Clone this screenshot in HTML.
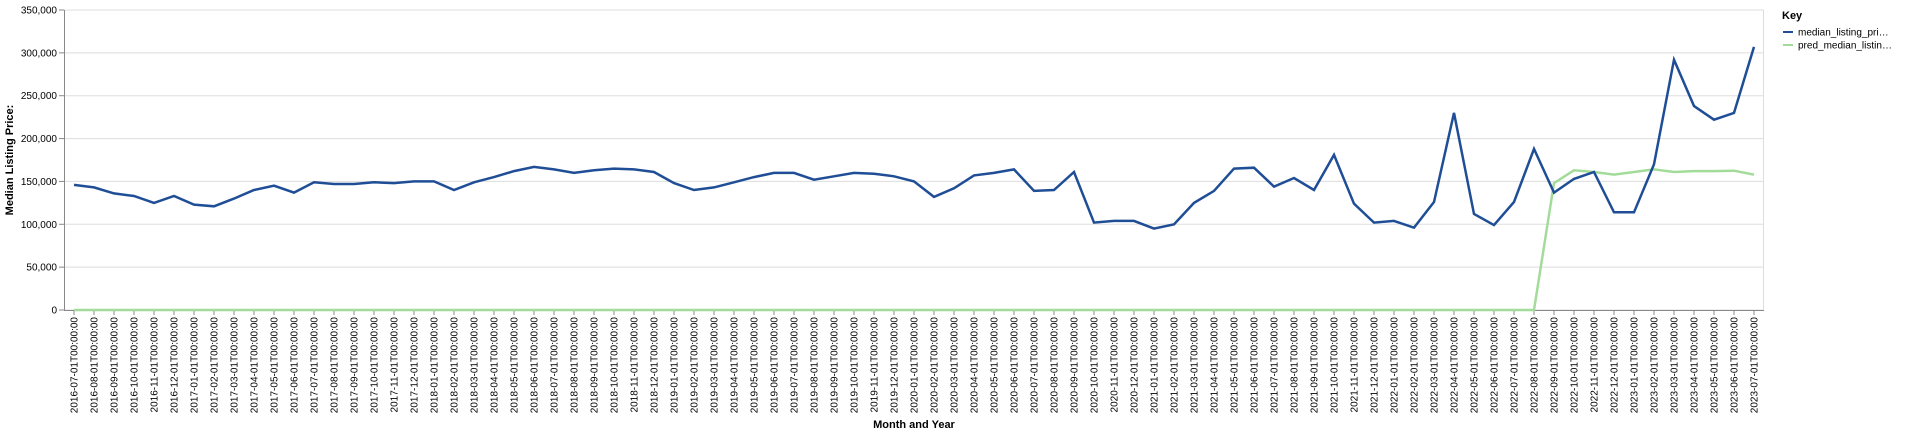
<!DOCTYPE html>
<html><head><meta charset="utf-8"><style>
html,body{margin:0;padding:0;background:#fff;}
svg{display:block;font-family:"Liberation Sans",sans-serif;}
</style></head><body>
<svg id="chart" width="1920" height="434">
<g id="grid"></g>
<g id="yaxis"></g>
<g id="xaxis"></g>
<g id="series"></g>
<text x="13" y="160" transform="rotate(-90 13 160)" text-anchor="middle" font-size="11" font-weight="bold" fill="#000">Median Listing Price:</text>
<text x="914" y="428" text-anchor="middle" font-size="11" font-weight="bold" fill="#000">Month and Year</text>
<g>
<text x="1782" y="19" font-size="11" font-weight="bold" fill="#000">Key</text>
<g><line x1="1783" y1="32" x2="1793" y2="32" stroke="#1f4e96" stroke-width="2"/><text x="1798" y="35.5" font-size="10" fill="#000">median_listing_pri…</text></g>
<g><line x1="1783" y1="45" x2="1793" y2="45" stroke="#a3dc9a" stroke-width="2"/><text x="1798" y="48.5" font-size="10" fill="#000">pred_median_listin…</text></g>
</g>
</svg>
<script>
const actualValues=[146000,143000,136000,133000,125000,133000,123000,121000,130000,140000,145000,137000,149000,147000,147000,149000,148000,150000,150000,140000,149000,155000,162000,167000,164000,160000,163000,165000,164000,161000,148000,140000,143000,149000,155000,160000,160000,152000,156000,160000,159000,156000,150000,132000,142000,157000,160000,164000,139000,140000,161000,102000,104000,104000,95000,100000,125000,139000,165000,166000,144000,154000,140000,181000,124000,102000,104000,96000,126000,230000,112000,99000,126000,188000,137000,153000,161000,114000,114000,170000,292000,238000,222000,230000,307000];
const predValues=[0,0,0,0,0,0,0,0,0,0,0,0,0,0,0,0,0,0,0,0,0,0,0,0,0,0,0,0,0,0,0,0,0,0,0,0,0,0,0,0,0,0,0,0,0,0,0,0,0,0,0,0,0,0,0,0,0,0,0,0,0,0,0,0,0,0,0,0,0,0,0,0,0,0,148000,163000,161000,158000,161000,164000,161000,162000,162000,162500,158000];
const yTicks=[0,50000,100000,150000,200000,250000,300000,350000];
const startYear=2016, startMonth=7;
const categories=[];
for(let i=0;i<actualValues.length;i++){const m=startMonth-1+i;const y=startYear+Math.floor(m/12);const mm=(m%12)+1;categories.push(y+'-'+String(mm).padStart(2,'0')+'-01T00:00:00');}
const NS='http://www.w3.org/2000/svg';
const L=64,R=1764,T=10,B=310,YMAX=350000;
const step=(R-L)/categories.length;
function xs(i){return L+step*(i+0.5);}
function ys(v){return B-(v/YMAX)*(B-T);}
function el(t,a,p){const e=document.createElementNS(NS,t);for(const k in a)e.setAttribute(k,a[k]);p.appendChild(e);return e;}
const grid=document.getElementById('grid'),ya=document.getElementById('yaxis'),xa=document.getElementById('xaxis'),ser=document.getElementById('series');
yTicks.forEach(v=>{
 const g=el('line',{x1:L,x2:R,y1:ys(v),y2:ys(v),stroke:'#ddd','stroke-width':1},grid);
 
 
 el('line',{x1:L-5,x2:L,y1:ys(v),y2:ys(v),stroke:'#888'},ya);
 const t=el('text',{x:L-7,y:ys(v)+3.5,'text-anchor':'end','font-size':10,fill:'#000'},ya);
 t.textContent=v.toLocaleString('en-US');
 
 
});
el('line',{x1:L+0.5,x2:L+0.5,y1:T,y2:B,stroke:'#888'},ya);
el('line',{x1:R-0.5,x2:R-0.5,y1:T,y2:B,stroke:'#ddd'},grid);
el('line',{x1:L,x2:R,y1:B+0.5,y2:B+0.5,stroke:'#888'},xa);
categories.forEach((c,i)=>{
 const x=xs(i);
 el('line',{x1:x,x2:x,y1:B,y2:B+5,stroke:'#888'},xa);
 const t=el('text',{x:x+3.5,y:B+7,transform:'rotate(-90 '+(x+3.5)+' '+(B+7)+')','text-anchor':'end','font-size':10,fill:'#000'},xa);
 t.textContent=c;
 
 
});
function path(vals,color,name){
 const d=vals.map((v,i)=>(i?'L':'M')+xs(i).toFixed(1)+' '+ys(v).toFixed(1)).join(' ');
 const p=el('path',{d:d,fill:'none',stroke:color,'stroke-width':2.5,'stroke-linejoin':'miter'},ser);
 
 
}
path(predValues,'#a3dc9a','pred-median-line');
path(actualValues,'#1f4e96','median-listing-line');
</script>
</body></html>
